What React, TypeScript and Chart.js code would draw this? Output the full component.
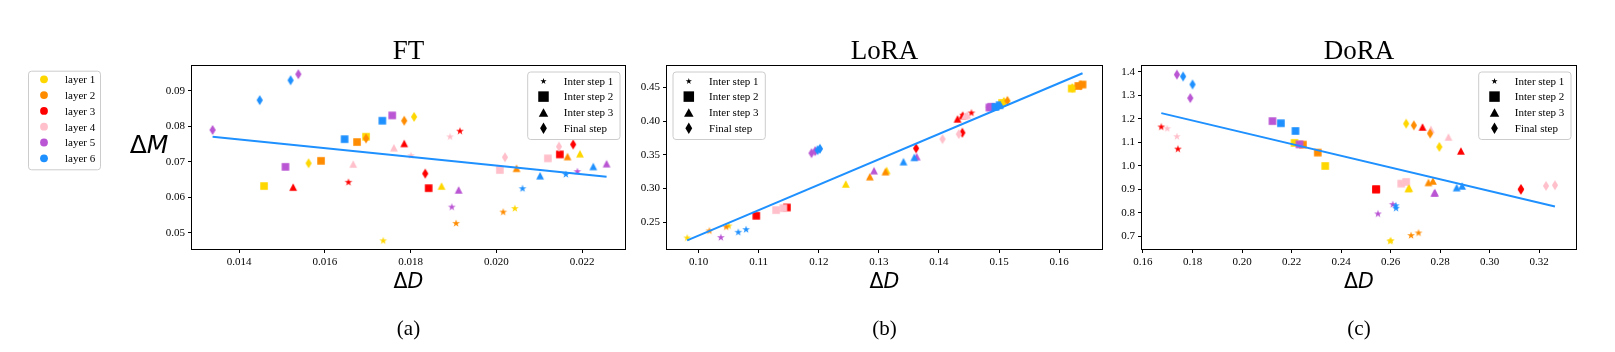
import React, { useEffect, useRef } from "react";
import { Chart, registerables } from "chart.js";

Chart.register(...registerables);

// ---------------- data ----------------
const layerNames = ["layer 1", "layer 2", "layer 3", "layer 4", "layer 5", "layer 6"];
const layerColors = ["#FFD700", "#FF8C00", "#FF0000", "#FFC0CB", "#BA55D3", "#1E90FF"];
const stepNames = ["Inter step 1", "Inter step 2", "Inter step 3", "Final step"];
const stepShapes = ["star", "square", "triangle", "diamond"];

// each array: two runs per layer, ordered layer 1 .. layer 6
const ftStep1X = [0.01736, 0.02043, 0.01906, 0.02016, 0.01655, 0.01915, 0.01801, 0.01892, 0.01896, 0.02189, 0.02061, 0.02162];
const ftStep1Y = [0.0479, 0.057, 0.0528, 0.056, 0.0644, 0.0788, 0.0719, 0.0772, 0.0574, 0.0674, 0.0626, 0.0666];
const ftStep2X = [0.01458, 0.01696, 0.01591, 0.01675, 0.01842, 0.02148, 0.02008, 0.0212, 0.01508, 0.01757, 0.01646, 0.01734];
const ftStep2Y = [0.0632, 0.0771, 0.0703, 0.0756, 0.0626, 0.0721, 0.0677, 0.071, 0.0686, 0.0831, 0.0764, 0.0816];
const ftStep3X = [0.01872, 0.02195, 0.02047, 0.02166, 0.01526, 0.01785, 0.01666, 0.01761, 0.01912, 0.02257, 0.02102, 0.02226];
const ftStep3Y = [0.0632, 0.0723, 0.0682, 0.0715, 0.0629, 0.0752, 0.0694, 0.074, 0.0621, 0.0695, 0.0661, 0.0687];
const ftFinalX = [0.01562, 0.01808, 0.01696, 0.01785, 0.01834, 0.02179, 0.0202, 0.02146, 0.01338, 0.01538, 0.01448, 0.0152];
const ftFinalY = [0.0696, 0.0827, 0.0766, 0.0816, 0.0667, 0.0749, 0.0713, 0.0743, 0.079, 0.0947, 0.0874, 0.093];

const loraStep1X = [0.0981, 0.105, 0.1018, 0.1046, 0.144, 0.1454, 0.1482, 0.149, 0.1037, 0.1485, 0.1066, 0.1079];
const loraStep1Y = [0.2276, 0.2454, 0.238, 0.2439, 0.4095, 0.4128, 0.4202, 0.4218, 0.2282, 0.4195, 0.236, 0.24];
const loraStep2X = [0.1621, 0.1505, 0.1632, 0.1639, 0.1096, 0.1147, 0.1129, 0.1141, 0.1484, 0.1487, 0.1494, 0.1501];
const loraStep2Y = [0.4483, 0.427, 0.4521, 0.4542, 0.2597, 0.272, 0.2681, 0.271, 0.4202, 0.4212, 0.4211, 0.4236];
const loraStep3X = [0.1245, 0.1313, 0.1285, 0.1311, 0.1431, 0.1439, 0.1447, 0.1443, 0.1292, 0.1363, 0.1341, 0.1359];
const loraStep3Y = [0.3069, 0.327, 0.3177, 0.3251, 0.4034, 0.4082, 0.4089, 0.4078, 0.3266, 0.3473, 0.3399, 0.3463];
const loraFinalX = [0.1508, 0.1622, 0.1514, 0.1636, 0.1362, 0.1439, 0.1406, 0.1433, 0.1188, 0.1194, 0.1198, 0.1202];
const loraFinalY = [0.4285, 0.449, 0.43, 0.4532, 0.3597, 0.3828, 0.3734, 0.3808, 0.3525, 0.3555, 0.357, 0.359];

const doraStep1X = [0.2598, 0.2601, 0.2683, 0.2713, 0.1674, 0.1741, 0.1698, 0.1737, 0.2549, 0.2609, 0.2621, 0.2622];
const doraStep1Y = [0.682, 0.684, 0.706, 0.717, 1.168, 1.074, 1.161, 1.127, 0.798, 0.838, 0.833, 0.822];
const doraStep2X = [0.2212, 0.2336, 0.2246, 0.2306, 0.2541, 0.2542, 0.2643, 0.2663, 0.2123, 0.2232, 0.2157, 0.2216];
const doraStep2Y = [1.098, 1.0, 1.091, 1.057, 0.9, 0.901, 0.925, 0.932, 1.191, 1.092, 1.182, 1.149];
const doraStep3X = [0.2672, 0.2675, 0.2753, 0.2771, 0.2729, 0.2884, 0.2763, 0.2834, 0.2777, 0.2779, 0.2867, 0.2889];
const doraStep3Y = [0.904, 0.906, 0.93, 0.936, 1.166, 1.064, 1.156, 1.123, 0.885, 0.887, 0.908, 0.915];
const doraFinalX = [0.2663, 0.2797, 0.2694, 0.276, 0.3126, 0.3127, 0.3228, 0.3264, 0.1737, 0.1791, 0.1762, 0.18];
const doraFinalY = [1.18, 1.081, 1.173, 1.138, 0.9, 0.901, 0.915, 0.918, 1.389, 1.289, 1.381, 1.347];

// regression lines: [slope, intercept]
const ftFit = [-1.2227, 0.09344];
const loraFit = [3.764, -0.14605];
const doraFit = [-2.498, 1.64304];

// axis limits and ticks
const ftXLimits = [0.0129, 0.023];
const ftYLimits = [0.04545, 0.09702];
const loraXLimits = [0.09474, 0.16714];
const loraYLimits = [0.21049, 0.48168];
const doraXLimits = [0.1596, 0.3349];
const doraYLimits = [0.6465, 1.4255];

const ftXTicks = [0.014, 0.016, 0.018, 0.02, 0.022];
const ftXTickLabels = ["0.014", "0.016", "0.018", "0.020", "0.022"];
const ftYTicks = [0.05, 0.06, 0.07, 0.08, 0.09];
const ftYTickLabels = ["0.05", "0.06", "0.07", "0.08", "0.09"];
const loraXTicks = [0.1, 0.11, 0.12, 0.13, 0.14, 0.15, 0.16];
const loraXTickLabels = ["0.10", "0.11", "0.12", "0.13", "0.14", "0.15", "0.16"];
const loraYTicks = [0.25, 0.3, 0.35, 0.4, 0.45];
const loraYTickLabels = ["0.25", "0.30", "0.35", "0.40", "0.45"];
const doraXTicks = [0.16, 0.18, 0.2, 0.22, 0.24, 0.26, 0.28, 0.3, 0.32];
const doraXTickLabels = ["0.16", "0.18", "0.20", "0.22", "0.24", "0.26", "0.28", "0.30", "0.32"];
const doraYTicks = [0.7, 0.8, 0.9, 1.0, 1.1, 1.2, 1.3, 1.4];
const doraYTickLabels = ["0.7", "0.8", "0.9", "1.0", "1.1", "1.2", "1.3", "1.4"];

const panelTitles = ["FT", "LoRA", "DoRA"];
const panelCaptions = ["(a)", "(b)", "(c)"];

// ---------------- styles / layout ----------------
const SERIF = '"Liberation Serif", "Times New Roman", serif';
const MATH = '"DejaVu Sans", sans-serif';
const FIT_COLOR = "#1E90FF";
const H = 352;
const PLOT_TOP = 66;
const PLOT_BOTTOM = 249;

const geoms = [
  { left: 0, w: 630, plotLeft: 192, plotRight: 625, legendSide: "right" },
  { left: 630, w: 477, plotLeft: 37, plotRight: 472, legendSide: "left" },
  { left: 1107, w: 508, plotLeft: 35, plotRight: 469, legendSide: "right" },
];

const pointSizes: Record<string, number[]> = {
  star: [8.2, 8.2],
  square: [7.6, 7.6],
  triangle: [7.8, 7.4],
  diamond: [6.2, 10],
};
const legendSizes: Record<string, number[]> = {
  star: [6.5, 6.5],
  square: [10.5, 10.5],
  triangle: [9.5, 8.5],
  diamond: [6.8, 11.5],
};

function shapePath(ctx: CanvasRenderingContext2D, shape: string, cx: number, cy: number, size: number[]) {
  const [w, h] = size;
  ctx.beginPath();
  if (shape === "square") {
    ctx.rect(cx - w / 2, cy - h / 2, w, h);
  } else if (shape === "triangle") {
    ctx.moveTo(cx, cy - h / 2);
    ctx.lineTo(cx + w / 2, cy + h / 2);
    ctx.lineTo(cx - w / 2, cy + h / 2);
    ctx.closePath();
  } else if (shape === "diamond") {
    ctx.moveTo(cx, cy - h / 2);
    ctx.lineTo(cx + w / 2, cy);
    ctx.lineTo(cx, cy + h / 2);
    ctx.lineTo(cx - w / 2, cy);
    ctx.closePath();
  } else {
    const R = w / 2;
    const r = R * 0.382;
    for (let i = 0; i < 10; i++) {
      const rad = i % 2 === 0 ? R : r;
      const a = -Math.PI / 2 + (i * Math.PI) / 5;
      const x = cx + rad * Math.cos(a);
      const y = cy + 0.5 + rad * Math.sin(a);
      if (i === 0) ctx.moveTo(x, y);
      else ctx.lineTo(x, y);
    }
    ctx.closePath();
  }
}

const markerCache: Record<string, HTMLCanvasElement> = {};
function markerImage(shape: string, color: string) {
  const key = shape + color;
  if (markerCache[key]) return markerCache[key];
  const c = document.createElement("canvas");
  c.width = 14;
  c.height = 14;
  const ctx = c.getContext("2d")!;
  ctx.fillStyle = color;
  shapePath(ctx, shape, 7, 7, pointSizes[shape]);
  ctx.fill();
  markerCache[key] = c;
  return c;
}

function legendBox(ctx: CanvasRenderingContext2D, x: number, y: number, w: number, h: number) {
  ctx.save();
  ctx.beginPath();
  if ((ctx as any).roundRect) (ctx as any).roundRect(x + 0.5, y + 0.5, w, h, 3);
  else ctx.rect(x + 0.5, y + 0.5, w, h);
  ctx.fillStyle = "rgba(255,255,255,0.8)";
  ctx.fill();
  ctx.strokeStyle = "#cccccc";
  ctx.lineWidth = 1;
  ctx.stroke();
  ctx.restore();
}

function drawMath(ctx: CanvasRenderingContext2D, letter: string, size: number, x: number, y: number, align: "center") {
  ctx.save();
  ctx.fillStyle = "#000";
  ctx.textBaseline = "alphabetic";
  ctx.textAlign = "left";
  ctx.font = `${size}px ${MATH}`;
  const w1 = ctx.measureText("Δ").width;
  ctx.font = `italic ${size}px ${MATH}`;
  const w2 = ctx.measureText(letter).width;
  const start = x - (w1 + w2) / 2;
  ctx.font = `${size}px ${MATH}`;
  ctx.fillText("Δ", start, y);
  ctx.font = `italic ${size}px ${MATH}`;
  ctx.fillText(letter, start + w1, y);
  ctx.restore();
}

type Panel = {
  steps: number[][][];
  fit: number[];
  xLimits: number[];
  yLimits: number[];
  xTicks: number[];
  xTickLabels: string[];
  yTicks: number[];
  yTickLabels: string[];
};

const panels: Panel[] = [
  {
    steps: [[ftStep1X, ftStep1Y], [ftStep2X, ftStep2Y], [ftStep3X, ftStep3Y], [ftFinalX, ftFinalY]],
    fit: ftFit, xLimits: ftXLimits, yLimits: ftYLimits,
    xTicks: ftXTicks, xTickLabels: ftXTickLabels, yTicks: ftYTicks, yTickLabels: ftYTickLabels,
  },
  {
    steps: [[loraStep1X, loraStep1Y], [loraStep2X, loraStep2Y], [loraStep3X, loraStep3Y], [loraFinalX, loraFinalY]],
    fit: loraFit, xLimits: loraXLimits, yLimits: loraYLimits,
    xTicks: loraXTicks, xTickLabels: loraXTickLabels, yTicks: loraYTicks, yTickLabels: loraYTickLabels,
  },
  {
    steps: [[doraStep1X, doraStep1Y], [doraStep2X, doraStep2Y], [doraStep3X, doraStep3Y], [doraFinalX, doraFinalY]],
    fit: doraFit, xLimits: doraXLimits, yLimits: doraYLimits,
    xTicks: doraXTicks, xTickLabels: doraXTickLabels, yTicks: doraYTicks, yTickLabels: doraYTickLabels,
  },
];

function buildChart(canvas: HTMLCanvasElement, panel: Panel, g: any, idx: number) {
  const datasets: any[] = [];
  const allX = panel.steps.flatMap((s) => s[0]);
  const x0 = Math.min(...allX);
  const x1 = Math.max(...allX);
  const [m, b] = panel.fit;
  datasets.push({
    type: "line",
    data: [{ x: x0, y: m * x0 + b }, { x: x1, y: m * x1 + b }],
    borderColor: FIT_COLOR,
    borderWidth: 2,
    pointRadius: 0,
    fill: false,
    order: -1000,
  });
  let k = 0;
  panel.steps.forEach(([xs, ys], si) => {
    layerColors.forEach((color, li) => {
      const pts = [0, 1].map((r) => ({ x: xs[li * 2 + r], y: ys[li * 2 + r] }));
      datasets.push({
        type: "scatter",
        data: pts,
        pointStyle: markerImage(stepShapes[si], color),
        pointRadius: 4,
        pointHoverRadius: 4,
        order: -k,
      });
      k++;
    });
  });

  const tickFont = { family: SERIF, size: 11 };
  const grid = { drawOnChartArea: false, drawTicks: true, tickLength: 4, color: "#000", tickColor: "#000", tickWidth: 1 };

  const decor = {
    id: "decor" + idx,
    afterDraw(chart: any) {
      const ctx: CanvasRenderingContext2D = chart.ctx;
      const a = chart.chartArea;
      ctx.save();
      // frame
      ctx.strokeStyle = "#000";
      ctx.lineWidth = 1;
      ctx.strokeRect(Math.round(a.left) - 0.5, Math.round(a.top) - 0.5, Math.round(a.right - a.left) + 1, Math.round(a.bottom - a.top) + 1);
      const cx = (a.left + a.right) / 2;
      // title
      ctx.fillStyle = "#000";
      ctx.textAlign = "center";
      ctx.textBaseline = "alphabetic";
      ctx.font = `27px ${SERIF}`;
      ctx.fillText(panelTitles[idx], cx, 59.3);
      // caption
      ctx.font = `21px ${SERIF}`;
      ctx.fillText(panelCaptions[idx], cx, 334.5);
      // axis labels
      drawMath(ctx, "D", 20.5, cx, 288.3, "center");
      if (idx === 0) drawMath(ctx, "M", 25, 149, 153, "center");

      // step legend
      const lw = 92.3, lh = 67.5;
      const lx = g.legendSide === "right" ? a.right - 5.5 - lw : a.left + 5.5;
      const ly = a.top + 5.5;
      legendBox(ctx, lx, ly, lw, lh);
      stepNames.forEach((name, i) => {
        const yy = ly + 9.3 + i * 15.8;
        ctx.fillStyle = "#000";
        shapePath(ctx, stepShapes[i], lx + 16.3, yy, legendSizes[stepShapes[i]]);
        ctx.fill();
        ctx.font = `11px ${SERIF}`;
        ctx.textAlign = "left";
        ctx.fillText(name, lx + 36.6, yy + 3.8);
      });

      // layer legend (first panel only)
      if (idx === 0) {
        const bx = 28, by = 70.7, bw = 72, bh = 98.6;
        legendBox(ctx, bx, by, bw, bh);
        layerNames.forEach((name, i) => {
          const yy = by + 8.6 + i * 15.8;
          ctx.beginPath();
          ctx.arc(bx + 16, yy, 3.9, 0, Math.PI * 2);
          ctx.fillStyle = layerColors[i];
          ctx.fill();
          ctx.fillStyle = "#000";
          ctx.font = `11px ${SERIF}`;
          ctx.textAlign = "left";
          ctx.fillText(name, bx + 37, yy + 3.8);
        });
      }
      ctx.restore();
    },
  };

  return new Chart(canvas, {
    type: "scatter",
    data: { datasets },
    options: {
      animation: false,
      responsive: false,
      devicePixelRatio: 1,
      events: [],
      layout: { padding: { left: 0, top: PLOT_TOP, right: g.w - g.plotRight, bottom: 0 } },
      plugins: { legend: { display: false }, tooltip: { enabled: false }, title: { display: false } },
      scales: {
        x: {
          type: "linear",
          min: panel.xLimits[0],
          max: panel.xLimits[1],
          afterBuildTicks: (s: any) => {
            s.ticks = panel.xTicks.map((v) => ({ value: v }));
          },
          afterFit: (s: any) => {
            s.height = H - PLOT_BOTTOM;
          },
          ticks: {
            autoSkip: false,
            maxRotation: 0,
            padding: 3,
            color: "#000",
            font: tickFont,
            callback: (_v: any, i: number) => panel.xTickLabels[i],
          },
          grid,
          border: { display: false },
        },
        y: {
          type: "linear",
          min: panel.yLimits[0],
          max: panel.yLimits[1],
          afterBuildTicks: (s: any) => {
            s.ticks = panel.yTicks.map((v) => ({ value: v }));
          },
          afterFit: (s: any) => {
            s.width = g.plotLeft;
          },
          ticks: {
            autoSkip: false,
            padding: 3,
            color: "#000",
            font: tickFont,
            callback: (_v: any, i: number) => panel.yTickLabels[i],
          },
          grid,
          border: { display: false },
        },
      },
    } as any,
    plugins: [decor],
  });
}

export default function App() {
  const r0 = useRef<HTMLCanvasElement>(null);
  const r1 = useRef<HTMLCanvasElement>(null);
  const r2 = useRef<HTMLCanvasElement>(null);
  const refs = [r0, r1, r2];

  useEffect(() => {
    const charts = panels.map((p, i) => buildChart(refs[i].current!, p, geoms[i], i));
    return () => charts.forEach((c) => c.destroy());
  }, []);

  return (
    <div style={{ position: "absolute", left: 0, top: 0, width: 1615, height: H, background: "#fff", overflow: "hidden" }}>
      {geoms.map((g, i) => (
        <canvas
          key={i}
          ref={refs[i]}
          width={g.w}
          height={H}
          style={{ position: "absolute", left: g.left, top: 0, width: g.w, height: H, display: "block" }}
        />
      ))}
    </div>
  );
}
